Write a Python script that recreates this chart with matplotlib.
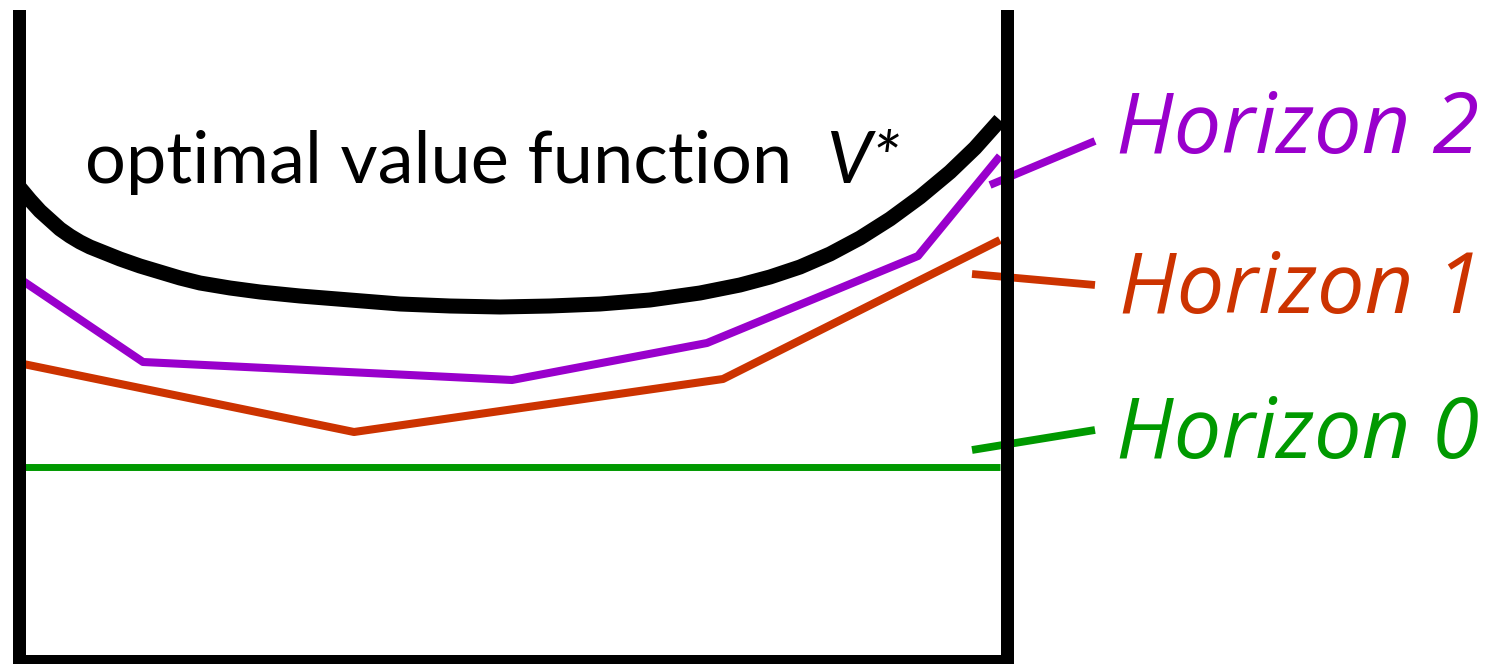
import matplotlib
matplotlib.use("Agg")
import matplotlib.pyplot as plt

H_PX = 664

vstar_x = [20, 30, 40, 50, 60, 70, 80, 90, 100, 120, 140, 160, 180, 200, 230, 260,
           300, 350, 400, 450, 500, 550, 600, 650, 700, 740, 770, 800, 830, 860,
           890, 920, 950, 975, 1000]
vstar_depth = [188, 200, 211, 220, 229, 236, 242, 247, 251, 259, 266, 272, 278, 283, 288, 292,
               296, 300, 304, 306, 307, 306, 304, 300, 293, 285, 277, 267, 254, 238,
               219, 197, 172, 148, 120]
vstar_y = [H_PX - d for d in vstar_depth]

h2_x = [18.5, 143, 512, 707, 918, 1000]
h2_y = [386, 302, 284, 321, 408, 508]

h1_x = [18.5, 354, 723, 1000]
h1_y = [301, 232, 285, 424]

h0_x = [18.5, 1000]
h0_y = [197, 197]

labels = ["Horizon 2", "Horizon 1", "Horizon 0"]
label_colors = ["#9900CC", "#CC3300", "#009900"]
label_line_x = [[990, 1095], [972, 1095], [972, 1095]]
label_line_y = [[479, 523], [390, 379], [214, 234]]
label_pos = [(1116, 511), (1119, 351), (1116, 206)]

title_text = "optimal value function"
title_sym = "V*"

# ---- figure ----
W, H = 1504, H_PX
fig = plt.figure(figsize=(W / 100, H / 100), dpi=100)
x0, x1 = 18.5, 1006.5
y0, y1 = 3, 648.5
ax = fig.add_axes([x0 / W, y0 / H, (x1 - x0) / W, (y1 - y0) / H])
ax.set_xlim(x0, x1)
ax.set_ylim(y0, y1)
ax.set_xticks([])
ax.set_yticks([])
ax.patch.set_visible(False)
for s in ["left", "right", "bottom"]:
    ax.spines[s].set_linewidth(13 * 0.72)
    ax.spines[s].set_color("black")
ax.spines["top"].set_visible(False)

ax.plot(h0_x, h0_y, color="#009900", lw=5.0, solid_capstyle="butt", clip_on=False)
ax.plot(h1_x, h1_y, color="#CC3300", lw=5.8, solid_capstyle="butt", clip_on=False)
ax.plot(h2_x, h2_y, color="#9900CC", lw=5.8, solid_capstyle="butt", clip_on=False)
ax.plot(vstar_x, vstar_y, color="black", lw=10.8, solid_capstyle="butt",
        solid_joinstyle="round", clip_on=False)

for lx, ly, c in zip(label_line_x, label_line_y, label_colors):
    ax.plot(lx, ly, color=c, lw=5.6, solid_capstyle="butt", clip_on=False)

for (tx, ty), t, c in zip(label_pos, labels, label_colors):
    ax.text(tx, ty, t, color=c, fontsize=61, fontstyle="italic",
            family=["Open Sans", "DejaVu Sans"], ha="left", va="baseline", clip_on=False)

ax.text(85, 481, title_text, color="black", fontsize=52,
        family=["Lato", "DejaVu Sans"], ha="left", va="baseline")
ax.text(826, 481, title_sym, color="black", fontsize=52, fontstyle="italic",
        family=["Lato", "DejaVu Sans"], ha="left", va="baseline")

fig.savefig("out.png", dpi=100, facecolor="white")
